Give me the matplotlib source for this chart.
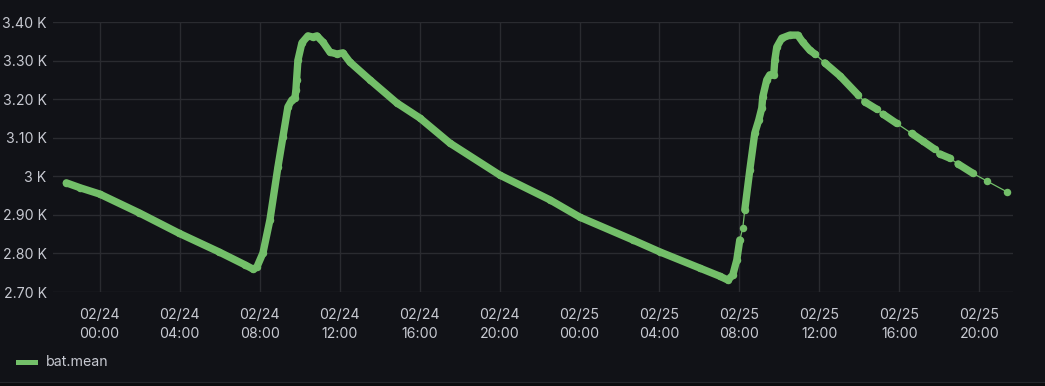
import matplotlib
matplotlib.use("Agg")
import matplotlib.pyplot as plt
import matplotlib.dates as mdates
from matplotlib.lines import Line2D
from matplotlib.patches import Rectangle
import pandas as pd

# ---- data ----
times = [
    "2024-02-23 22:20", "2024-02-23 23:02", "2024-02-24 00:00", "2024-02-24 01:59",
    "2024-02-24 03:59", "2024-02-24 05:58", "2024-02-24 07:17", "2024-02-24 07:41",
    "2024-02-24 07:52", "2024-02-24 08:10", "2024-02-24 08:31", "2024-02-24 08:55",
    "2024-02-24 09:10", "2024-02-24 09:25", "2024-02-24 09:37", "2024-02-24 09:46",
    "2024-02-24 09:49", "2024-02-24 09:51", "2024-02-24 09:55", "2024-02-24 10:07",
    "2024-02-24 10:25", "2024-02-24 10:40", "2024-02-24 10:52", "2024-02-24 11:10",
    "2024-02-24 11:31", "2024-02-24 11:52", "2024-02-24 12:10", "2024-02-24 12:31",
    "2024-02-24 13:31", "2024-02-24 14:52", "2024-02-24 16:01", "2024-02-24 17:31",
    "2024-02-24 20:01", "2024-02-24 22:31", "2024-02-25 00:01", "2024-02-25 02:40",
    "2024-02-25 04:01", "2024-02-25 06:01", "2024-02-25 07:01", "2024-02-25 07:25",
    "2024-02-25 07:40", "2024-02-25 07:52", "2024-02-25 08:01",
    "2024-02-25 08:10",
    "2024-02-25 08:16", "2024-02-25 08:31", "2024-02-25 08:46", "2024-02-25 08:58",
    "2024-02-25 09:07", "2024-02-25 09:10", "2024-02-25 09:22", "2024-02-25 09:31",
    "2024-02-25 09:43", "2024-02-25 09:46", "2024-02-25 09:52", "2024-02-25 10:07",
    "2024-02-25 10:31", "2024-02-25 10:55", "2024-02-25 11:10", "2024-02-25 11:31",
    "2024-02-25 11:48",
    "2024-02-25 12:16", "2024-02-25 13:02", "2024-02-25 13:56",
    "2024-02-25 14:16", "2024-02-25 14:52",
    "2024-02-25 15:11", "2024-02-25 15:52",
    "2024-02-25 16:37", "2024-02-25 17:11", "2024-02-25 17:46",
    "2024-02-25 18:01", "2024-02-25 18:31",
    "2024-02-25 18:56", "2024-02-25 19:40",
    "2024-02-25 20:22",
    "2024-02-25 21:22",
]
bat_mean = [
    2983, 2970, 2954, 2905,
    2852, 2804, 2770, 2759,
    2765, 2801, 2887, 3024,
    3102, 3180, 3198, 3203,
    3224, 3250, 3301, 3346,
    3364, 3361, 3364, 3348,
    3322, 3317, 3320, 3296,
    3250, 3190, 3151, 3086,
    3003, 2939, 2894, 2835,
    2804, 2762, 2741, 2731,
    2744, 2783, 2835,
    2866,
    2913, 3016, 3112, 3146,
    3177, 3206, 3250, 3263,
    3263, 3301, 3335, 3358,
    3366, 3366, 3348, 3327,
    3316,
    3294, 3260, 3211,
    3193, 3174,
    3161, 3137,
    3111, 3091, 3070,
    3058, 3047,
    3032, 3008,
    2988,
    2960,
]
# runs of densely sampled readings (points in the same run overlap visually)
run_id = (
    [0] * 43 + [1] + [2] * 17 + [3] * 3 + [4] * 2 + [5] * 2 + [6] * 3
    + [7] * 2 + [8] * 2 + [9] + [10]
)

y_ticks = [2700, 2800, 2900, 3000, 3100, 3200, 3300, 3400]
y_tick_labels = ["2.70 K", "2.80 K", "2.90 K", "3 K", "3.10 K", "3.20 K", "3.30 K", "3.40 K"]
x_start, x_end = "2024-02-23 21:40", "2024-02-25 21:40"
series_name = "bat.mean"

# ---- style ----
BG = "#111217"
GREEN = "#73BF69"
GRID = "#2a2b30"
TEXT = "#c7c9d1"
FONT = ["Inter", "DejaVu Sans"]
FS = 10.2
plt.rcParams["font.family"] = FONT

W, H = 1045, 386
fig = plt.figure(figsize=(W / 100, H / 100), dpi=100, facecolor=BG)
ax = fig.add_axes([53 / W, (H - 292) / H, (1012.7 - 53) / W, (292 - 22) / H])
ax.set_facecolor(BG)

df = pd.DataFrame({"t": pd.to_datetime(times), "v": bat_mean, "run": run_id})

# thin connecting line through all readings
ax.plot(df["t"], df["v"], color=GREEN, lw=0.9, zorder=3)
# dense runs drawn as overlapping points (thick round line)
for rid, g in df.groupby("run"):
    if len(g) > 1:
        ax.plot(g["t"], g["v"], color=GREEN, lw=5.3, solid_capstyle="round",
                solid_joinstyle="round", zorder=4)
    ax.plot(g["t"], g["v"], "o", color=GREEN, ms=5.4, mew=0, zorder=4)

ax.set_xlim(pd.Timestamp(x_start), pd.Timestamp(x_end))
ax.set_ylim(y_ticks[0], y_ticks[-1])
ax.set_yticks(y_ticks)
ax.set_yticklabels(y_tick_labels)
ax.xaxis.set_major_locator(mdates.HourLocator(byhour=range(0, 24, 4)))
ax.xaxis.set_major_formatter(mdates.DateFormatter("%m/%d\n%H:%M"))

for s in ax.spines.values():
    s.set_visible(False)
ax.grid(True, color=GRID, lw=1.0, zorder=0)
ax.tick_params(axis="both", length=0, colors=TEXT, labelsize=FS)
ax.tick_params(axis="y", pad=4.5)
ax.tick_params(axis="x", pad=11.5)
for lbl in ax.get_xticklabels():
    lbl.set_linespacing(1.45)

# legend (Grafana style, bottom-left)
fig.add_artist(Line2D([18 / W, 35 / W], [(H - 361.5) / H] * 2, color=GREEN, lw=3.6,
                      transform=fig.transFigure))
fig.text(46 / W, (H - 361.5) / H, series_name, color=TEXT, fontsize=FS,
         va="center", ha="left")

# panel bottom edge
fig.add_artist(Rectangle((0, 0), 1, 4.5 / H, transform=fig.transFigure,
                         facecolor="#0b0c0e", edgecolor="none"))
fig.add_artist(Line2D([0, 1], [4.5 / H] * 2, color="#24262b", lw=0.8,
                      transform=fig.transFigure))

fig.savefig("out.png", dpi=100, facecolor=BG)
